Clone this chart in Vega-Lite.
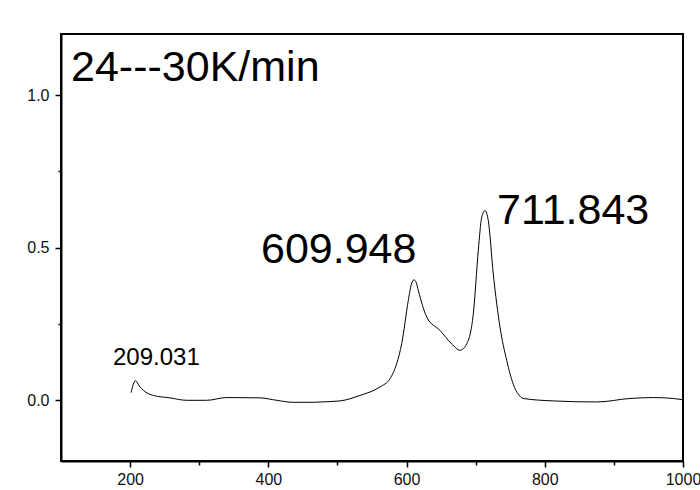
{
  "$schema": "https://vega.github.io/schema/vega-lite/v6.json",
  "width": 622,
  "height": 427,
  "autosize": {"type": "none"},
  "padding": {"left": 61, "top": 34, "right": 17, "bottom": 29},
  "background": "white",
  "config": {
    "view": {"stroke": "black", "strokeWidth": 2},
    "font": "Liberation Sans",
    "axis": {
      "domainColor": "black",
      "domainWidth": 2,
      "tickColor": "black",
      "tickWidth": 1.5,
      "grid": false,
      "labelFont": "Liberation Sans",
      "labelFontSize": 16,
      "labelColor": "#111",
      "title": null
    }
  },
  "datasets": {
    "curve": [
      {"t": 201.3, "v": 0.024},
      {"t": 207.8, "v": 0.063},
      {"t": 213.5, "v": 0.045},
      {"t": 219.1, "v": 0.032},
      {"t": 233.6, "v": 0.015},
      {"t": 257.7, "v": 0.007},
      {"t": 281.9, "v": -0.001},
      {"t": 310.8, "v": -0.001},
      {"t": 339.8, "v": 0.008},
      {"t": 388.0, "v": 0.007},
      {"t": 412.1, "v": -0.001},
      {"t": 435.7, "v": -0.0075},
      {"t": 465.1, "v": -0.0075},
      {"t": 474.8, "v": -0.0065},
      {"t": 503.7, "v": -0.003},
      {"t": 532.6, "v": 0.015},
      {"t": 561.6, "v": 0.043},
      {"t": 576.1, "v": 0.07},
      {"t": 585.7, "v": 0.119},
      {"t": 593.0, "v": 0.185},
      {"t": 602.5, "v": 0.326},
      {"t": 607.0, "v": 0.380},
      {"t": 610.8, "v": 0.394},
      {"t": 614.0, "v": 0.385},
      {"t": 617.0, "v": 0.359},
      {"t": 629.2, "v": 0.272},
      {"t": 648.4, "v": 0.228},
      {"t": 665.3, "v": 0.184},
      {"t": 677.3, "v": 0.163},
      {"t": 687.0, "v": 0.184},
      {"t": 696.6, "v": 0.283},
      {"t": 703.8, "v": 0.49},
      {"t": 708.7, "v": 0.599},
      {"t": 713.5, "v": 0.621},
      {"t": 718.3, "v": 0.588},
      {"t": 725.5, "v": 0.413},
      {"t": 735.2, "v": 0.239},
      {"t": 744.9, "v": 0.13},
      {"t": 754.5, "v": 0.051},
      {"t": 762.0, "v": 0.018},
      {"t": 768.9, "v": 0.005},
      {"t": 812.3, "v": -0.003},
      {"t": 875.1, "v": -0.0065},
      {"t": 923.3, "v": 0.005},
      {"t": 957.0, "v": 0.008},
      {"t": 986.0, "v": 0.005},
      {"t": 1000.0, "v": 0.001}
    ]
  },
  "layer": [
    {
      "data": {"name": "curve"},
      "mark": {"type": "line", "color": "black", "strokeWidth": 1, "interpolate": "monotone", "clip": true},
      "encoding": {
        "x": {
          "field": "t", "type": "quantitative",
          "scale": {"domain": [100, 1000], "nice": false, "zero": false},
          "axis": {
            "values": [200, 300, 400, 500, 600, 700, 800, 900, 1000],
            "format": "d",
            "labelExpr": "datum.value % 200 === 0 ? datum.label : ''",
            "tickSize": {"condition": {"test": "datum.value % 200 === 0", "value": 6}, "value": 4},
            "labelPadding": 4,
            "labelFlush": false
          }
        },
        "y": {
          "field": "v", "type": "quantitative",
          "scale": {"domain": [-0.2, 1.2], "nice": false, "zero": false},
          "axis": {
            "values": [0, 0.25, 0.5, 0.75, 1.0],
            "format": ".1f",
            "labelExpr": "(round(datum.value * 100) % 50 === 0) ? datum.label : ''",
            "tickSize": {"condition": {"test": "round(datum.value * 100) % 50 === 0", "value": 6}, "value": 3},
            "labelPadding": 6,
            "labelFlush": false
          }
        }
      }
    },
    {
      "data": {"values": [{"x": 114.5, "y": 1.046, "label": "24---30K/min"}]},
      "mark": {"type": "text", "align": "left", "baseline": "alphabetic", "fontSize": 43, "font": "Liberation Sans", "color": "black"},
      "encoding": {
        "x": {"field": "x", "type": "quantitative"},
        "y": {"field": "y", "type": "quantitative"},
        "text": {"field": "label"}
      }
    },
    {
      "data": {"values": [
        {"x": 389.4, "y": 0.450, "label": "609.948"},
        {"x": 730.9, "y": 0.578, "label": "711.843"}
      ]},
      "mark": {"type": "text", "align": "left", "baseline": "alphabetic", "fontSize": 43, "font": "Liberation Sans", "color": "black"},
      "encoding": {
        "x": {"field": "x", "type": "quantitative"},
        "y": {"field": "y", "type": "quantitative"},
        "text": {"field": "label"}
      }
    },
    {
      "data": {"values": [{"x": 175.2, "y": 0.1135, "label": "209.031"}]},
      "mark": {"type": "text", "align": "left", "baseline": "alphabetic", "fontSize": 24, "font": "Liberation Sans", "color": "black"},
      "encoding": {
        "x": {"field": "x", "type": "quantitative"},
        "y": {"field": "y", "type": "quantitative"},
        "text": {"field": "label"}
      }
    }
  ]
}
